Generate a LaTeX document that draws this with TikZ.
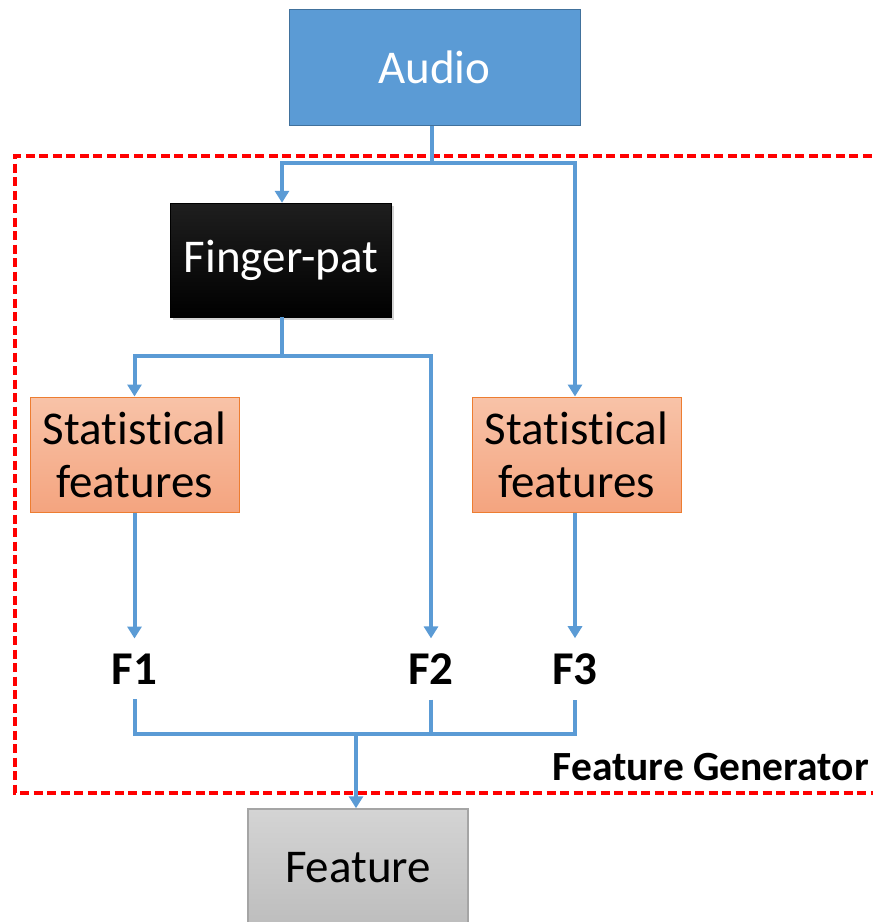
\documentclass[tikz,border=0pt]{standalone}
\usepackage{fontspec}
\setmainfont{Carlito}[Ligatures={CommonOff,ContextualOff}]
\usetikzlibrary{arrows.meta,shadows}
\definecolor{blueA}{HTML}{5B9BD5}
\definecolor{blueB}{HTML}{41719C}
\definecolor{orE}{HTML}{ED7D31}
\definecolor{orT}{HTML}{F8C3A8}
\definecolor{orBt}{HTML}{F4A47F}
\definecolor{grT}{HTML}{D4D4D4}
\definecolor{grB}{HTML}{BDBDBD}
\definecolor{grE}{HTML}{A5A5A5}
\newcommand\myfs{\fontsize{47}{53}\selectfont}
\newcommand\mysmallfs{\fontsize{41.5}{46}\selectfont}
\begin{document}
\begin{tikzpicture}[x=1pt,y=-1pt,
  conn/.style={draw=blueA, line width=4pt},
  arr/.style={conn, -{Triangle[width=14pt,length=12pt]}},
  box/.style={rectangle, inner sep=0pt, font=\myfs, align=center},
  audiobox/.style={box, fill=blueA, draw=blueB, line width=1pt, text=white},
  fpbox/.style={box, top color=black!88, bottom color=black, draw=black, text=white,
     drop shadow={opacity=0.35, shadow xshift=2.5pt, shadow yshift=-2.5pt}},
  statbox/.style={box, top color=orT, bottom color=orBt, draw=orE, line width=1pt, text=black},
  featbox/.style={box, top color=grT, bottom color=grB, draw=grE, line width=1.5pt, text=black},
  flabel/.style={inner xsep=0pt, inner ysep=15pt, font=\myfs\bfseries},
  frame/.style={draw=red, line width=3.3pt, dash pattern=on 9pt off 4.5pt}
]
\useasboundingbox (0,0) rectangle (873,922);

% dashed frame (right side lies outside the picture)
\draw[frame] (885,156) -- (15,156) -- (15,793) -- (885,793);

% boxes
\node[audiobox, minimum width=291pt, minimum height=116pt] (audio) at (434.5,67) {Audio};
\node[fpbox, minimum width=221pt, minimum height=114pt] (fp) at (281,260) {Finger-pat};
\node[statbox, minimum width=209pt, minimum height=115pt] (sl) at (134.5,454.5) {Statis\kern0pt tical\\features};
\node[statbox, minimum width=209pt, minimum height=115pt] (sr) at (576.5,454.5) {Statis\kern0pt tical\\features};
\node[featbox, minimum width=220pt, minimum height=118pt] (feat) at (358,868) {Feature};

% F labels
\node[flabel] (f1) at (134.5,669) {F1};
\node[flabel] (f2) at (431,669) {F2};
\node[flabel] (f3) at (575,669) {F3};

\node[anchor=east, inner sep=0pt, font=\mysmallfs\bfseries] (fg) at (869,767) {Feature Generator};

% junctions
\coordinate (j1) at (432,163);
\coordinate (j2) at (282,356);
\coordinate (jb) at (356,734);

% connectors
\draw[conn] (audio.south -| j1) -- (j1);
\draw[arr] (j1) -| (fp.north -| j2);
\draw[arr] (j1) -| (sr.north -| f3);
\draw[conn] (fp.south -| j2) -- (j2);
\draw[arr] (j2) -| (sl.north);
\draw[arr] (j2) -| (f2.north);
\draw[arr] (sl.south) -- (f1.north);
\draw[arr] (sr.south -| f3) -- (f3.north);
\draw[conn] (f1.south) |- (jb -| f3) -- (f3.south);
\draw[conn] (f2.south) -- (f2.south |- jb);
\draw[arr] (jb) -- (jb |- feat.north);
\end{tikzpicture}
\end{document}
